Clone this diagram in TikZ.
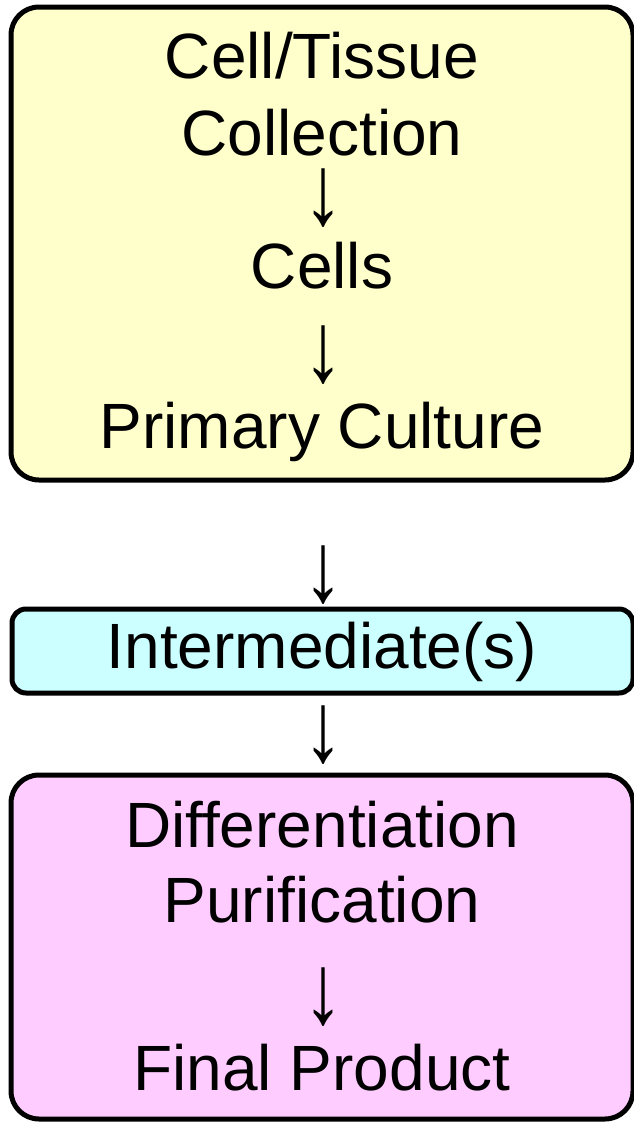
\documentclass[tikz,border=0pt]{standalone}
\usepackage{fontspec}
\setmainfont{Liberation Sans}

\definecolor{paleyellow}{HTML}{FFFFCC}
\definecolor{palecyan}{HTML}{CCFFFF}
\definecolor{palepink}{HTML}{FFCCFF}

\newcommand{\tallarrow}{\scalebox{1.25}[1.55]{↓}}

\tikzset{
  stage/.style={draw=black,line width=5pt},
  lbl/.style={anchor=base,inner sep=0pt,font=\fontsize{64}{77}\selectfont},
  down/.style={inner sep=0pt,font=\fontsize{64}{77}\selectfont}
}

\begin{document}
\begin{tikzpicture}[x=1pt,y=-1pt]
\useasboundingbox (0,0) rectangle (634,1122);

% boxes
\draw[stage,fill=paleyellow,rounded corners=28pt] (11,7) rectangle (633,480);
\draw[stage,fill=palecyan,rounded corners=14pt] (12,609) rectangle (633,693);
\draw[stage,fill=palepink,rounded corners=28pt] (11,775) rectangle (633,1119);

% labels
\node[lbl] (tissue) at (322,78) {Cell/Tissue};
\node[lbl] (collection) at (322,155) {Collection};
\node[down] (arrA) at (323,198) {\tallarrow};
\node[lbl] (cells) at (322,288) {Cells};
\node[down] (arrB) at (323,355) {\tallarrow};
\node[lbl] (primary) at (322,448) {Primary Culture};
\node[down] (arrC) at (323,575) {\tallarrow};
\node[lbl] (inter) at (322,668) {Intermediate(s)};
\node[down] (arrD) at (323,735) {\tallarrow};
\node[lbl] (diff) at (322,847) {Differentiation};
\node[lbl] (purif) at (322,922) {Purification};
\node[down] (arrE) at (323,997) {\tallarrow};
\node[lbl] (final) at (322,1090) {Final Product};
\end{tikzpicture}
\end{document}
